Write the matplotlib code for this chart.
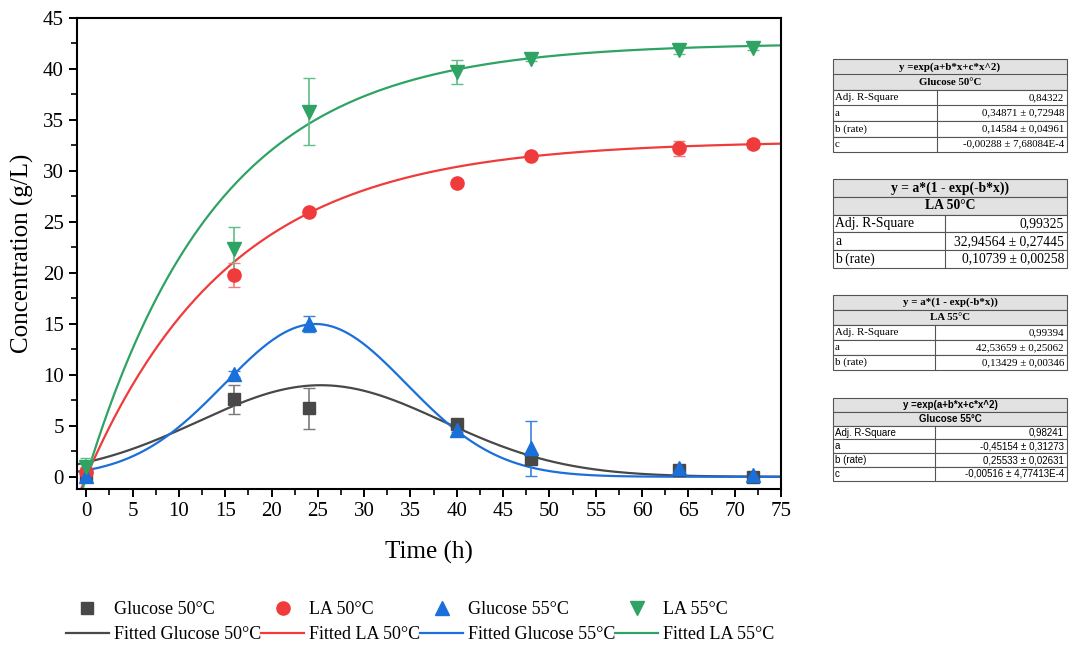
import numpy as np
import matplotlib
matplotlib.use("Agg")
import matplotlib.pyplot as plt
from matplotlib.patches import Rectangle
from matplotlib.lines import Line2D
from matplotlib.ticker import MultipleLocator

plt.rcParams['font.family'] = ['Liberation Serif', 'DejaVu Serif']

# measured data
t = [0, 16, 24, 40, 48, 64, 72]
glc50 = [0.2, 7.6, 6.7, 5.2, 1.7, 0.7, 0.0]
glc50_err = [0.3, 1.4, 2.0, 0.2, 0.2, 0.2, 0.1]
la50 = [0.5, 19.8, 26.0, 28.8, 31.5, 32.2, 32.6]
la50_err = [0.5, 1.2, 0.2, 0.3, 0.2, 0.7, 0.4]
glc55 = [0.1, 10.1, 15.0, 4.6, 2.8, 0.9, 0.2]
glc55_err = [0.5, 0.3, 0.8, 0.2, 2.7, 0.3, 0.2]
la55 = [1.0, 22.3, 35.8, 39.7, 41.0, 41.9, 42.1]
la55_err = [0.8, 2.2, 3.3, 1.2, 0.2, 0.4, 0.2]

# fit parameters (glucose from the tables, LA rates)
g50_a, g50_b, g50_c = 0.34871, 0.14584, -0.00288
l50_a, l50_b = 32.94564, 0.064
l55_a, l55_b = 42.53659, 0.070
g55_a, g55_b, g55_c = -0.45154, 0.25533, -0.00516

c_g50, c_l50, c_g55, c_l55 = '#484848', '#ef3b3b', '#1a6fd8', '#2ea364'
e_g50, e_l50, e_g55, e_l55 = '#7a7a7a', '#f27b7b', '#3a82dd', '#5dbf85'

fig = plt.figure(figsize=(10.7, 6.46), dpi=100)
W, H = 1070, 646
ax = fig.add_axes([77 / W, 1 - 489 / H, (781 - 77) / W, (489 - 18) / H])

xf = np.linspace(-1, 75, 400)
ax.plot(xf, np.exp(g50_a + g50_b * xf + g50_c * xf ** 2), color=c_g50, lw=1.6)
ax.plot(xf, l50_a * (1 - np.exp(-l50_b * xf)), color=c_l50, lw=1.6)
ax.plot(xf, np.exp(g55_a + g55_b * xf + g55_c * xf ** 2), color=c_g55, lw=1.6)
ax.plot(xf, l55_a * (1 - np.exp(-l55_b * xf)), color=c_l55, lw=1.6)

ax.errorbar(t, glc50, yerr=glc50_err, fmt='s', color=c_g50, ecolor=e_g50, ms=9, capsize=4, elinewidth=1.2)
ax.errorbar(t, la50, yerr=la50_err, fmt='o', color=c_l50, ecolor=e_l50, ms=9.5, capsize=4, elinewidth=1.2)
ax.errorbar(t, glc55, yerr=glc55_err, fmt='^', color=c_g55, ecolor=e_g55, ms=10, capsize=4, elinewidth=1.2)
ax.errorbar(t, la55, yerr=la55_err, fmt='v', color=c_l55, ecolor=e_l55, ms=10, capsize=4, elinewidth=1.2)

ax.set_xlim(-1, 75)
ax.set_ylim(-1.2, 45)
ax.xaxis.set_major_locator(MultipleLocator(5))
ax.xaxis.set_minor_locator(MultipleLocator(2.5))
ax.yaxis.set_major_locator(MultipleLocator(5))
ax.yaxis.set_minor_locator(MultipleLocator(2.5))
ax.tick_params(which='major', direction='out', length=6, width=1.4, labelsize=15)
ax.tick_params(which='minor', direction='out', length=4, width=1.2)
for s in ax.spines.values():
    s.set_linewidth(1.5)
ax.set_xlabel('Time (h)', fontsize=18, labelpad=14)
ax.set_ylabel('Concentration (g/L)', fontsize=18, labelpad=6)

# legend
hs = [
    Line2D([], [], ls='', marker='s', color=c_g50, ms=9), Line2D([], [], color=c_g50, lw=1.6),
    Line2D([], [], ls='', marker='o', color=c_l50, ms=9.5), Line2D([], [], color=c_l50, lw=1.6),
    Line2D([], [], ls='', marker='^', color=c_g55, ms=10), Line2D([], [], color=c_g55, lw=1.6),
    Line2D([], [], ls='', marker='v', color=c_l55, ms=10), Line2D([], [], color=c_l55, lw=1.6),
]
labels = ['Glucose 50°C', 'Fitted Glucose 50°C', 'LA 50°C', 'Fitted LA 50°C',
          'Glucose 55°C', 'Fitted Glucose 55°C', 'LA 55°C', 'Fitted LA 55°C']
fig.legend(hs, labels, ncol=4, loc='center', bbox_to_anchor=(420 / W, 1 - 622 / H),
           frameon=False, fontsize=13, columnspacing=0.0, handlelength=2.4,
           handletextpad=0.25, labelspacing=0.45)


def draw_table(left, top, right, split, rowh, rows, title1, title2, fs, family):
    n = 2 + len(rows)
    for i in range(n):
        y0 = top + i * rowh
        face = '#e2e2e2' if i < 2 else 'white'
        fig.patches.append(Rectangle((left / W, 1 - (y0 + rowh) / H), (right - left) / W, rowh / H,
                                     transform=fig.transFigure, facecolor=face, edgecolor='#555555', lw=0.8))
        yc = 1 - (y0 + rowh / 2) / H
        if i < 2:
            fig.text((left + right) / 2 / W, yc, [title1, title2][i], ha='center', va='center',
                     fontsize=fs, fontweight='bold', family=family)
        else:
            k, v = rows[i - 2]
            fig.text((left + 2) / W, yc, k, ha='left', va='center', fontsize=fs, family=family)
            fig.text((right - 3) / W, yc, v, ha='right', va='center', fontsize=fs, family=family)
    fig.lines.append(Line2D([split / W, split / W], [1 - (top + 2 * rowh) / H, 1 - (top + n * rowh) / H],
                            transform=fig.transFigure, color='#555555', lw=0.8))


draw_table(833, 59, 1067, 937, 15.5,
           [('Adj. R-Square', '0,84322'), ('a', '0,34871 ± 0,72948'),
            ('b (rate)', '0,14584 ± 0,04961'), ('c', '-0,00288 ± 7,68084E-4')],
           'y =exp(a+b*x+c*x^2)', 'Glucose 50°C', 7.8, ['Liberation Serif'])
draw_table(833, 179, 1067, 945, 17.8,
           [('Adj. R-Square', '0,99325'), ('a', '32,94564 ± 0,27445'), ('b (rate)', '0,10739 ± 0,00258')],
           'y = a*(1 - exp(-b*x))', 'LA 50°C', 9.8, ['Liberation Serif'])
draw_table(833, 295, 1067, 935, 15,
           [('Adj. R-Square', '0,99394'), ('a', '42,53659 ± 0,25062'), ('b (rate)', '0,13429 ± 0,00346')],
           'y = a*(1 - exp(-b*x))', 'LA 55°C', 7.8, ['Liberation Serif'])
draw_table(833, 398, 1067, 935, 13.8,
           [('Adj. R-Square', '0,98241'), ('a', '-0,45154 ± 0,31273'),
            ('b (rate)', '0,25533 ± 0,02631'), ('c', '-0,00516 ± 4,77413E-4')],
           'y =exp(a+b*x+c*x^2)', 'Glucose 55°C', 7, ['Liberation Sans'])

fig.savefig('out.png', dpi=100)
